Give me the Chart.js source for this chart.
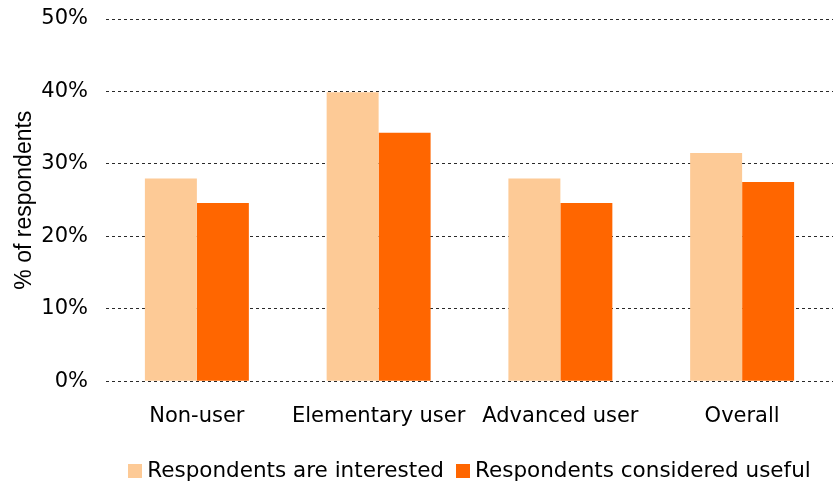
<!DOCTYPE html>
<html>
<head>
<meta charset="utf-8">
<script src="https://cdn.jsdelivr.net/npm/chart.js@4.4.1/dist/chart.umd.min.js"></script>
<style>
  html, body { margin: 0; padding: 0; background: #ffffff; }
  #wrap { width: 833px; height: 484px; position: relative; }
</style>
</head>
<body>
<div id="wrap"><canvas id="c"></canvas></div>
<script>
// Respondent groups along the x axis
const categories = ['Non-user', 'Elementary user', 'Advanced user', 'Overall'];

// Share of respondents (percent) per group
const interested = [28.0, 39.9, 28.0, 31.5];
const consideredUseful = [24.6, 34.3, 24.6, 27.5];

const seriesNames = ['Respondents are interested', 'Respondents considered useful'];
const seriesColors = ['#FDCA96', '#FF6600'];
const yTicks = [0, 10, 20, 30, 40, 50];

const FONT = '"DejaVu Sans", Verdana, sans-serif';

// Single-row legend centred under the plot area, boxes tight against their labels
const rowLegend = {
  id: 'rowLegend',
  afterDraw(chart) {
    const { ctx, chartArea } = chart;
    const box = 14, gapText = 5, gapItem = 12;
    ctx.save();
    ctx.font = '21.5px ' + FONT;
    ctx.textBaseline = 'middle';
    ctx.textAlign = 'left';
    const items = chart.data.datasets.map(ds => ({
      label: ds.label, color: ds.backgroundColor, w: ctx.measureText(ds.label).width
    }));
    const total = items.reduce((s, it) => s + box + gapText + it.w, 0) + gapItem * (items.length - 1);
    let x = (chartArea.left + chartArea.right) / 2 - total / 2;
    const yMid = chartArea.bottom + 90;
    items.forEach(it => {
      ctx.fillStyle = it.color;
      ctx.fillRect(Math.round(x), Math.round(yMid - box / 2), box, box);
      x += box + gapText;
      ctx.fillStyle = '#000';
      ctx.fillText(it.label, x, yMid);
      x += it.w + gapItem;
    });
    ctx.restore();
  }
};

new Chart(document.getElementById('c'), {
  type: 'bar',
  data: {
    labels: categories,
    datasets: [
      { label: seriesNames[0], data: interested, backgroundColor: seriesColors[0], borderWidth: 0 },
      { label: seriesNames[1], data: consideredUseful, backgroundColor: seriesColors[1], borderWidth: 0 }
    ]
  },
  plugins: [rowLegend],
  options: {
    responsive: true,
    maintainAspectRatio: false,
    animation: false,
    layout: { padding: { left: 11, right: 0, top: 19, bottom: 31.5 } },
    datasets: { bar: { categoryPercentage: 0.572, barPercentage: 1.0 } },
    plugins: {
      tooltip: { enabled: false },
      legend: { display: false }
    },
    scales: {
      x: {
        grid: { display: false, drawTicks: false },
        border: { display: false },
        ticks: {
          color: '#000',
          font: { family: FONT, size: 21 },
          padding: 23,
          maxRotation: 0,
          autoSkip: false
        }
      },
      y: {
        min: 0,
        max: yTicks[yTicks.length - 1],
        afterBuildTicks: (axis) => { axis.ticks = yTicks.map(v => ({ value: v })); },
        afterFit: (axis) => { axis.width = 95; },
        grid: {
          color: '#2a2a2a',
          lineWidth: 1,
          drawTicks: true,
          tickLength: 18,
          tickColor: 'rgba(0,0,0,0)'
        },
        border: { display: false, dash: [3, 3] },
        ticks: {
          color: '#000',
          font: { family: FONT, size: 21 },
          padding: 0,
          callback: (v) => v + '%'
        },
        title: {
          display: true,
          text: '% of respondents',
          color: '#000',
          font: { family: '"Liberation Sans", Arial, sans-serif', size: 23 },
          padding: 0
        }
      }
    }
  }
});
</script>
</body>
</html>
